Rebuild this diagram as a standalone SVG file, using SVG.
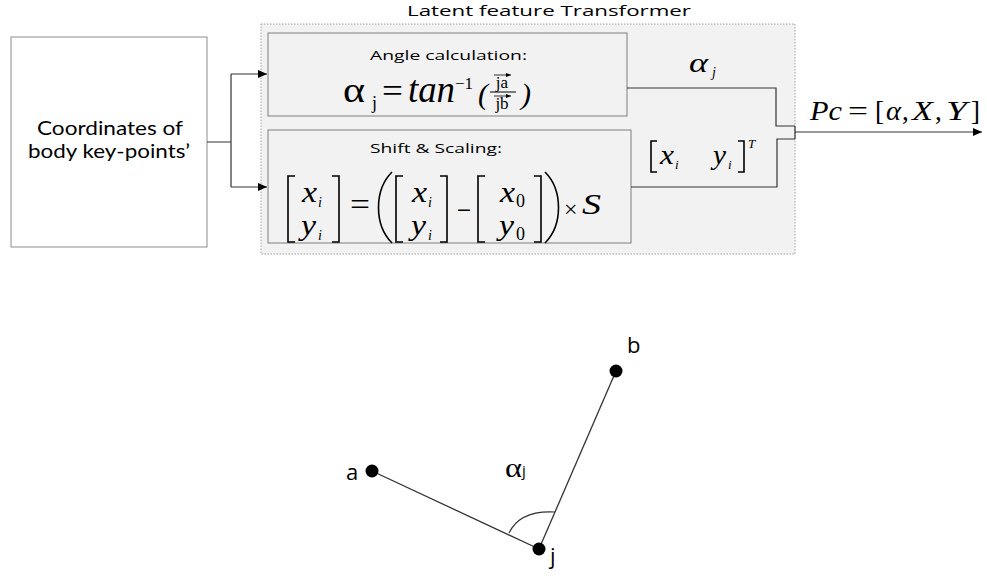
<svg xmlns="http://www.w3.org/2000/svg" width="987" height="579" viewBox="0 0 987 579">
<style>
.sans{font-family:"Open Sans","Liberation Sans",sans-serif;fill:#000}
.lato{font-family:Lato,"Liberation Sans",sans-serif;fill:#000}
.math{font-family:"Liberation Serif","Times New Roman",serif;fill:#000}
.dv{font-family:"DejaVu Serif",serif;fill:#000}
.it{font-style:italic}
.box{fill:#f2f2f2;stroke:#7f7f7f;stroke-width:1}
.wire{fill:none;stroke:#333;stroke-width:1.2}
.br{fill:none;stroke:#000;stroke-width:1.6}
</style>
<defs>
<marker id="ah" markerWidth="10" markerHeight="8" refX="9" refY="4" orient="auto" markerUnits="userSpaceOnUse">
<path d="M0,0 L9,4 L0,8 Z" fill="#000"/>
</marker>
<marker id="sa" markerWidth="5" markerHeight="4" refX="5" refY="2" orient="auto" markerUnits="userSpaceOnUse">
<path d="M0,0 L5,2 L0,4 Z" fill="#000"/>
</marker>
</defs>
<rect width="987" height="579" fill="#fff"/>

<g id="transformer">
<rect x="261" y="24" width="534" height="230" fill="#f2f2f2" stroke="#a0a0a0" stroke-dasharray="1.5,1.5"/>
<text class="sans" x="407" y="16" font-size="15" textLength="284" lengthAdjust="spacingAndGlyphs">Latent feature Transformer</text>
</g>

<g id="input">
<rect x="11" y="37" width="196" height="210" fill="#fff" stroke="#8c8c8c"/>
<text class="lato" x="37" y="135" font-size="19" textLength="146" lengthAdjust="spacingAndGlyphs">Coordinates of</text>
<text class="lato" x="28" y="158" font-size="19" textLength="162" lengthAdjust="spacingAndGlyphs">body key-points’</text>
</g>

<g id="angle">
<rect class="box" x="268" y="33" width="359" height="83"/>
<text class="sans" x="370" y="60" font-size="13" textLength="157" lengthAdjust="spacingAndGlyphs">Angle calculation:</text>
<text class="math" x="343" y="102" font-size="36" textLength="22" lengthAdjust="spacingAndGlyphs">α</text>
<text class="math" x="372" y="109" font-size="18">j</text>
<text class="math" x="382" y="102" font-size="34" textLength="21" lengthAdjust="spacingAndGlyphs">=</text>
<text class="math it" x="408" y="102" font-size="37" textLength="47" lengthAdjust="spacingAndGlyphs">tan</text>
<text class="math" x="455" y="89" font-size="17">−1</text>
<text class="math it" x="478" y="104" font-size="30">(</text>
<text class="math" x="502" y="88" font-size="17" text-anchor="middle">ja</text>
<line x1="494" y1="75" x2="511" y2="75" stroke="#000" stroke-width="0.8" marker-end="url(#sa)"/>
<line x1="490" y1="92" x2="516" y2="92" stroke="#000" stroke-width="1"/>
<line x1="494" y1="96" x2="511" y2="96" stroke="#000" stroke-width="0.8" marker-end="url(#sa)"/>
<text class="math" x="502" y="109" font-size="17" text-anchor="middle">jb</text>
<text class="math it" x="521" y="104" font-size="30">)</text>
</g>

<g id="shift">
<rect class="box" x="268" y="130" width="363" height="113"/>
<text class="sans" x="370" y="153" font-size="13" textLength="132" lengthAdjust="spacingAndGlyphs">Shift &amp; Scaling:</text>
<path class="br" d="M295,176 H288 V242 H295"/>
<text class="math it" x="302" y="202" font-size="29" textLength="15" lengthAdjust="spacingAndGlyphs">x</text>
<text class="math it" x="318" y="207" font-size="14">i</text>
<text class="math it" x="301" y="235" font-size="29" textLength="15" lengthAdjust="spacingAndGlyphs">y</text>
<text class="math it" x="318" y="240" font-size="14">i</text>
<path class="br" d="M332,176 H339 V242 H332"/>
<text class="math" x="350" y="215" font-size="32" textLength="20" lengthAdjust="spacingAndGlyphs">=</text>
<path class="br" d="M392,172 C374,190 374,225 392,243"/>
<path class="br" d="M403,176 H396 V242 H403"/>
<text class="math it" x="412" y="202" font-size="29" textLength="15" lengthAdjust="spacingAndGlyphs">x</text>
<text class="math it" x="428" y="207" font-size="14">i</text>
<text class="math it" x="411" y="235" font-size="29" textLength="15" lengthAdjust="spacingAndGlyphs">y</text>
<text class="math it" x="428" y="240" font-size="14">i</text>
<path class="br" d="M440,176 H447 V242 H440"/>
<text class="dv" x="456" y="216" font-size="19">−</text>
<path class="br" d="M485,176 H478 V242 H485"/>
<text class="math it" x="500" y="202" font-size="29" textLength="15" lengthAdjust="spacingAndGlyphs">x</text>
<text class="math" x="516" y="207" font-size="18">0</text>
<text class="math it" x="499" y="235" font-size="29" textLength="15" lengthAdjust="spacingAndGlyphs">y</text>
<text class="math" x="516" y="240" font-size="18">0</text>
<path class="br" d="M534,176 H541 V242 H534"/>
<path class="br" d="M545,172 C563,190 563,225 545,243"/>
<text class="math" x="564" y="217" font-size="24">×</text>
<text class="math it" x="582" y="214" font-size="30" textLength="19" lengthAdjust="spacingAndGlyphs">S</text>
</g>

<g id="connectors">
<path class="wire" d="M207,142 H231 M231,74 V187"/>
<path class="wire" d="M231,74 H267" marker-end="url(#ah)"/>
<path class="wire" d="M231,187 H267" marker-end="url(#ah)"/>
<path class="wire" d="M627,88 H776 V126 H795"/>
<path class="wire" d="M631,187 H777 V139 H795"/>
<path class="wire" d="M795,126 V139"/>
<path class="wire" d="M795,132 H982" marker-end="url(#ah)"/>
</g>

<g id="labels">
<text class="math it" x="689" y="72" font-size="28" textLength="19" lengthAdjust="spacingAndGlyphs">α</text>
<text class="math it" x="712" y="77" font-size="14">j</text>
<path class="br" d="M657,141 H651 V172 H657"/>
<text class="math it" x="660" y="164" font-size="27" textLength="14" lengthAdjust="spacingAndGlyphs">x</text>
<text class="math it" x="675" y="169" font-size="13">i</text>
<text class="math it" x="713" y="164" font-size="27" textLength="13" lengthAdjust="spacingAndGlyphs">y</text>
<text class="math it" x="728" y="169" font-size="13">i</text>
<path class="br" d="M738,141 H744 V172 H738"/>
<text class="math it" x="748" y="148" font-size="13">T</text>
<text class="math it" x="810" y="120" font-size="27" textLength="32" lengthAdjust="spacingAndGlyphs">Pc</text>
<text class="math" x="848" y="120" font-size="27" textLength="20" lengthAdjust="spacingAndGlyphs">=</text>
<text class="math" x="875" y="120" font-size="27">[</text>
<text class="math it" x="886" y="120" font-size="27" textLength="15" lengthAdjust="spacingAndGlyphs">α</text>
<text class="math" x="902" y="120" font-size="27">,</text>
<text class="math it" x="912" y="120" font-size="27" textLength="21" lengthAdjust="spacingAndGlyphs">X</text>
<text class="math" x="935" y="120" font-size="27">,</text>
<text class="math it" x="946" y="120" font-size="27" textLength="21" lengthAdjust="spacingAndGlyphs">Y</text>
<text class="math" x="971" y="120" font-size="27">]</text>
</g>

<g id="skeleton">
<line x1="372" y1="471" x2="539" y2="549" stroke="#333" stroke-width="1.3"/>
<line x1="616" y1="371" x2="539" y2="549" stroke="#333" stroke-width="1.3"/>
<path d="M509,533 Q520,510 555,512" fill="none" stroke="#333" stroke-width="1.2"/>
<circle cx="372" cy="471" r="6.5" fill="#000"/>
<circle cx="616" cy="371" r="6.5" fill="#000"/>
<circle cx="539" cy="549" r="6.5" fill="#000"/>
<text class="sans" x="346" y="480" font-size="22">a</text>
<text class="sans" x="627" y="353" font-size="22">b</text>
<text class="sans" x="550" y="564" font-size="22">j</text>
<text class="math" x="505" y="477" font-size="28" textLength="17" lengthAdjust="spacingAndGlyphs">α</text>
<text class="sans" x="522" y="476" font-size="15">j</text>
</g>
</svg>
